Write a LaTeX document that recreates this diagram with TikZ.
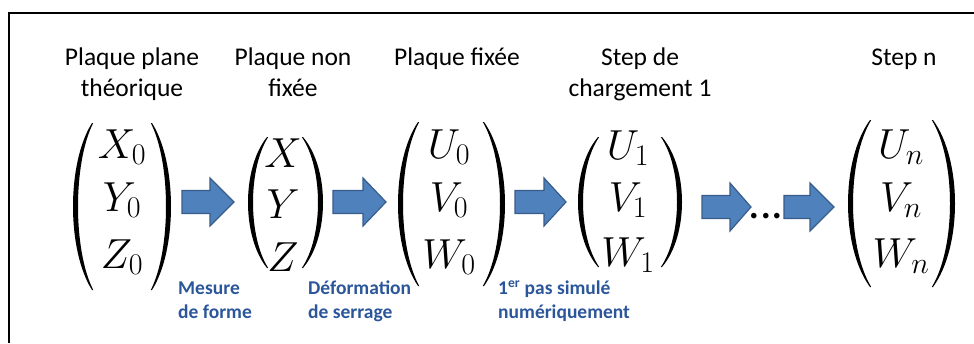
\RequirePackage{fix-cm}
\documentclass[tikz,border=0pt]{standalone}
\usepackage{fontspec}
\setmainfont{Carlito}
\DeclareMathSizes{42}{42}{30}{22}
\definecolor{arrowfill}{HTML}{4F81BD}
\definecolor{arrowline}{HTML}{385D8A}
\definecolor{labelblue}{HTML}{2B579A}
\newcommand\parenshape[4]{%
 \pgfmathsetmacro\pzS{(#1>#4)?1:-1}%
 \pgfmathsetmacro\pzCo{#1+4/3*(#4-#1)}%
 \pgfmathsetmacro\pzIe{#1+\pzS*1.2}%
 \pgfmathsetmacro\pzIb{#4+\pzS*5}%
 \pgfmathsetmacro\pzCi{\pzIe+4/3*(\pzIb-\pzIe)}%
 \pgfmathsetmacro\pzA{0.24*(#3-#2)}%
 \fill[black] (#1,#2) .. controls (\pzCo,#2+\pzA) and (\pzCo,#3-\pzA) .. (#1,#3)
   -- (\pzIe,#3) .. controls (\pzCi,#3-\pzA) and (\pzCi,#2+\pzA) .. (\pzIe,#2) -- cycle;}
\newcommand\blockarrow[4]{%
 \draw[barrow] (#1,#4-11.5) -- (#2,#4-11.5) -- (#2,#4-24) -- (#3,#4)
   -- (#2,#4+24) -- (#2,#4+11.5) -- (#1,#4+11.5) -- cycle;}
\begin{document}
\begin{tikzpicture}[x=1pt,y=-1pt,
 title/.style={font=\fontsize{25.5}{31}\selectfont, align=center, anchor=base, inner sep=0pt},
 entry/.style={font=\fontsize{42}{42}\selectfont, anchor=base, inner sep=0pt},
 note/.style={font=\fontsize{19.5}{23.5}\selectfont\bfseries, text=labelblue, align=left, anchor=base west, inner sep=0pt},
 barrow/.style={fill=arrowfill, draw=arrowline, line width=1.2pt, line join=miter}]
\useasboundingbox (0,0) rectangle (974,343);
\fill[white] (0,0) rectangle (974,343);
\draw[line width=2pt] (8.5,343) -- (8.5,13) -- (974,13);
% titles (base anchor = last line)
\node[title] (t1) at (132,96) {Plaque plane\\théorique};
\node[title] (t2) at (293,96) {Plaque non\\fixée};
\node[title] (t3) at (457,65) {Plaque fixée};
\node[title] (t4) at (640,96) {Step de\\chargement 1};
\node[title] (t5) at (904,65) {Step n};
% matrix 1
\node[entry] (m1a) at (122,158) {$X_0$};
\node[entry] (m1b) at (122,211) {$Y_0$};
\node[entry] (m1c) at (122,268) {$Z_0$};
\parenshape{92}{123}{290}{73}
\parenshape{152}{123}{290}{171}
% matrix 2
\node[entry] (m2a) at (283,167) {$X$};
\node[entry] (m2b) at (283,218) {$Y$};
\node[entry] (m2c) at (283,271) {$Z$};
\parenshape{267}{137}{268}{248}
\parenshape{303}{137}{268}{323}
% matrix 3
\node[entry] (m3a) at (449,158) {$U_0$};
\node[entry] (m3b) at (449,211) {$V_0$};
\node[entry] (m3c) at (449,268) {$W_0$};
\parenshape{418}{122}{286}{398}
\parenshape{484}{122}{286}{505}
% matrix 4
\node[entry] (m4a) at (628,159) {$U_1$};
\node[entry] (m4b) at (628,211) {$V_1$};
\node[entry] (m4c) at (628,266) {$W_1$};
\parenshape{598}{137}{267}{578}
\parenshape{662}{137}{267}{682}
% matrix 5
\node[entry] (m5a) at (901,158) {$U_n$};
\node[entry] (m5b) at (901,211) {$V_n$};
\node[entry] (m5c) at (901,267) {$W_n$};
\parenshape{870}{120}{287}{848}
\parenshape{933}{120}{287}{955}
% arrows
\blockarrow{182}{210}{234}{202}
\blockarrow{333}{363}{386}{202}
\blockarrow{515}{544}{566}{202}
\blockarrow{702}{730}{751}{207}
\blockarrow{784}{810}{834}{207}
\node[font=\fontsize{46}{46}\selectfont, anchor=base, inner sep=0pt] (dots) at (766,218) {...};
% notes (base anchor = last line)
\node[note] (n1) at (178,318) {Mesure\\de forme};
\node[note] (n2) at (308,318) {Déformation\\de serrage};
\node[note] (n3) at (498,318) {1\textsuperscript{er} pas simulé\\numériquement};
\end{tikzpicture}
\end{document}
